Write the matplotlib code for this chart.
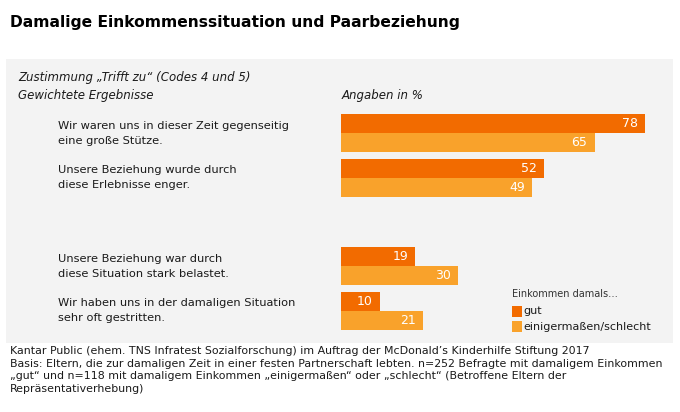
import matplotlib
matplotlib.use("Agg")
import matplotlib.pyplot as plt
from matplotlib.patches import Rectangle

# data
statements = [
    "Wir waren uns in dieser Zeit gegenseitig\neine große Stütze.",
    "Unsere Beziehung wurde durch\ndiese Erlebnisse enger.",
    "Unsere Beziehung war durch\ndiese Situation stark belastet.",
    "Wir haben uns in der damaligen Situation\nsehr oft gestritten.",
]
group_pos = [0, 1, 3, 4]
gut = [78, 52, 19, 10]
schlecht = [65, 49, 30, 21]
series_labels = ["gut", "einigermaßen/schlecht"]

title = "Damalige Einkommenssituation und Paarbeziehung"
subtitle = "Zustimmung „Trifft zu“ (Codes 4 und 5)\nGewichtete Ergebnisse"
unit_note = "Angaben in %"
legend_title = "Einkommen damals…"
footer = (
    "Kantar Public (ehem. TNS Infratest Sozialforschung) im Auftrag der McDonald’s Kinderhilfe Stiftung 2017\n"
    "Basis: Eltern, die zur damaligen Zeit in einer festen Partnerschaft lebten. n=252 Befragte mit damaligem Einkommen\n"
    "„gut“ und n=118 mit damaligem Einkommen „einigermaßen“ oder „schlecht“ (Betroffene Eltern der\n"
    "Repräsentativerhebung)"
)

DARK = "#F26B00"
LIGHT = "#F9A22B"
PANEL = "#F3F3F3"
TEXT = "#1a1a1a"

W, H = 680, 412
fig = plt.figure(figsize=(W / 100, H / 100), dpi=100)
fig.patch.set_facecolor("white")


def fx(px):
    return px / W


def fy(py):
    return 1 - py / H


# grey panel
fig.patches.append(Rectangle((fx(6), fy(343)), fx(673) - fx(6), (343 - 59) / H,
                             transform=fig.transFigure, facecolor=PANEL,
                             edgecolor="none", zorder=-5))

fig.text(fx(10), fy(22), title, fontsize=11.2, fontweight="bold", color="black",
         va="center", ha="left")
fig.text(fx(18), fy(86.5), subtitle, fontsize=8.5, style="italic", color=TEXT,
         va="center", ha="left", linespacing=1.45)
fig.text(fx(342), fy(95), unit_note, fontsize=8.5, style="italic", color=TEXT,
         va="center", ha="left")

# bar axes
top_px, bot_px = 100, 340
unit_px = 44.4
ax = fig.add_axes([fx(341), fy(bot_px), 312 / W, (bot_px - top_px) / H], zorder=2)
ax.set_xlim(0, 80)
ax.set_ylim(4 + (bot_px - 310.7) / unit_px, -(133.3 - top_px) / unit_px)
ax.axis("off")
ax.patch.set_alpha(0)

h = 0.43
for pos, g, s in zip(group_pos, gut, schlecht):
    ax.barh(pos - h / 2, g, height=h, color=DARK, edgecolor="none")
    ax.barh(pos + h / 2, s, height=h, color=LIGHT, edgecolor="none")
    ax.text(g - 1.8, pos - h / 2, str(g), color="white", fontsize=9,
            ha="right", va="center")
    ax.text(s - 1.8, pos + h / 2, str(s), color="white", fontsize=9,
            ha="right", va="center")

trans = matplotlib.transforms.blended_transform_factory(fig.transFigure, ax.transData)
for pos, label in zip(group_pos, statements):
    fig.text(fx(58), pos, label, transform=trans, fontsize=8.2, color=TEXT,
             ha="left", va="center", linespacing=1.65)

# legend
fig.text(fx(512), fy(294), legend_title, fontsize=7.0, color="#333333",
         ha="left", va="center")
for i, (lab, col) in enumerate(zip(series_labels, [DARK, LIGHT])):
    yc = 311.5 + i * 15
    fig.patches.append(Rectangle((fx(512), fy(yc + 5.5)), 9.5 / W, 11 / H,
                                 transform=fig.transFigure, facecolor=col,
                                 edgecolor="none"))
    fig.text(fx(523), fy(yc), lab, fontsize=8.0, color=TEXT, ha="left", va="center")

fig.text(fx(10), fy(346.5), footer, fontsize=7.95, color=TEXT, ha="left", va="top",
         linespacing=1.3)

fig.savefig("out.png", dpi=100)
